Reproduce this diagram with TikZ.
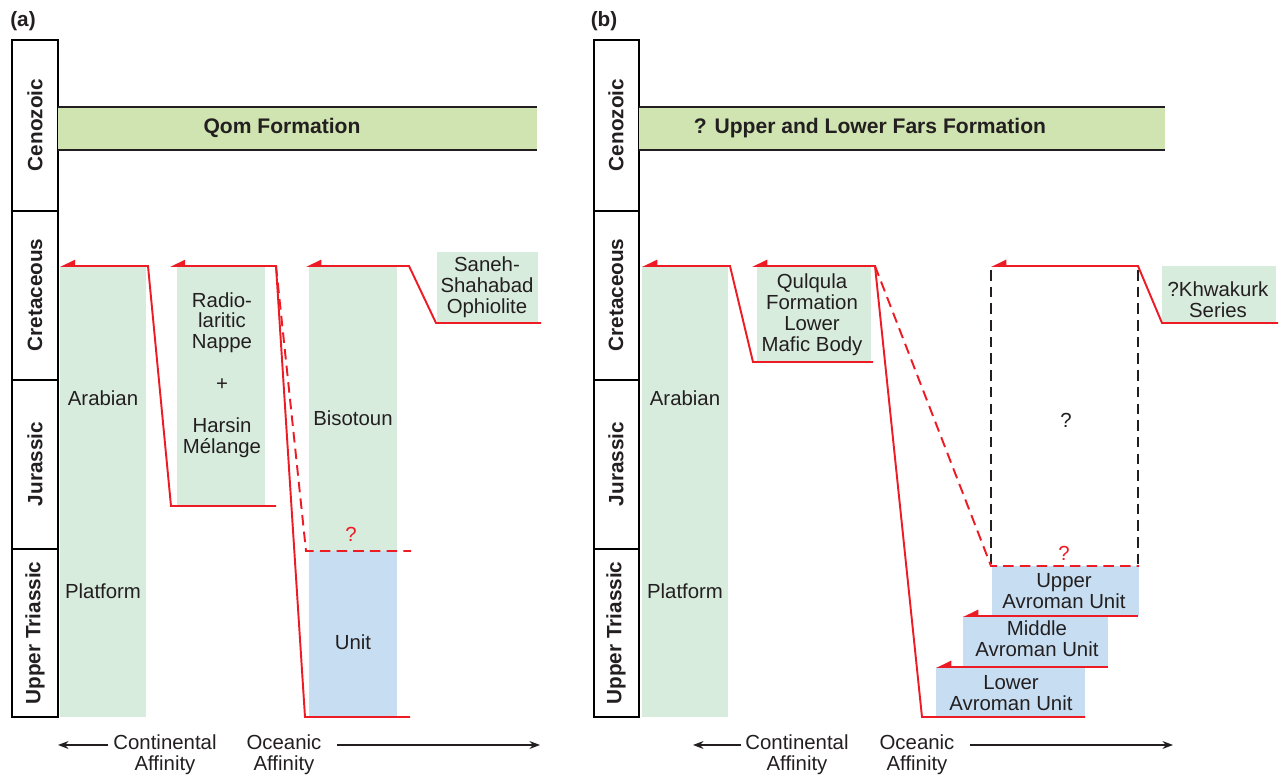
\documentclass[tikz,border=0pt]{standalone}
\usepackage{fontspec}
\setmainfont{Liberation Sans}
\usetikzlibrary{arrows.meta}
\definecolor{cenogreen}{RGB}{207,228,176}
\definecolor{unitgreen}{RGB}{216,236,222}
\definecolor{unitblue}{RGB}{199,222,242}
\definecolor{thrustred}{RGB}{237,28,36}
\definecolor{inkgray}{RGB}{35,31,32}
\tikzset{
  % time scale column
  period/.style = {
    draw = black,
    line width = 1.1pt
  },
  era/.style = {
    rotate = 90,
    inner sep = 0,
    text = inkgray,
    font = \bfseries\fontsize{11.8}{12}\selectfont
  },
  panel label/.style = {
    inner sep = 0,
    text = inkgray,
    font = \bfseries\fontsize{11.8}{12}\selectfont
  },
  % cenozoic cover band
  band/.style = {
    draw = inkgray,
    line width = 0.9pt
  },
  cover/.style = {
    inner sep = 0,
    text = inkgray,
    font = \bfseries\fontsize{12}{12}\selectfont
  },
  % tectonic unit label
  unit/.style = {
    align = center,
    inner sep = 0,
    text = inkgray,
    font = \fontsize{11.6}{11.9}\selectfont
  },
  % thrust with half arrow at its leading edge
  thrust/.style = {
    draw = thrustred,
    line width = 1.1pt,
    {Triangle[harpoon,swap,length=7.5pt,width=7pt]}-
  },
  % inferred contact
  fault/.style = {
    draw = thrustred,
    line width = 1.1pt,
    dash pattern = on 6pt off 3.5pt
  },
  unknown/.style = {
    draw = inkgray,
    line width = 1.1pt,
    dash pattern = on 6pt off 3.5pt
  },
  query/.style = {
    inner sep = 0,
    font = \fontsize{11.6}{12}\selectfont
  },
  affinity/.style = {
    draw = inkgray,
    line width = 0.7pt,
    -{Stealth[length=6pt,width=4.5pt]}
  }
}

\begin{document}
\begin{tikzpicture}[x=0.02cm, y=-0.02cm]
    \useasboundingbox (0,0) rectangle (1279,776);

    % ---------------- panel (a) ----------------
    \node[panel label] (a-label) at (23,21) {(a)};

    % time scale
    \draw[period] (12,40) rectangle (58,717);
    \draw[period] (12,211) -- (58,211);
    \draw[period] (12,380) -- (58,380);
    \draw[period] (12,549) -- (58,549);
    \node[era] (a-ceno) at (35,125) {Cenozoic};
    \node[era] (a-cret) at (35,295) {Cretaceous};
    \node[era] (a-jura) at (35,464) {Jurassic};
    \node[era] (a-tria) at (35,633) {Upper Triassic};

    % cover
    \fill[cenogreen] (58,107) rectangle (537,150);
    \draw[band] (58,107) -- (537,107) (58,150) -- (537,150);
    \node[cover] (qom) at (282,128) {Qom Formation};

    % units
    \fill[unitgreen] (60,266) rectangle (146,717);
    \fill[unitgreen] (177,266) rectangle (265,506);
    \fill[unitgreen] (309,266) rectangle (397,551);
    \fill[unitblue] (309,551) rectangle (397,717);
    \fill[unitgreen] (437,252) rectangle (538,323);

    \node[unit] (a-arab) at (103,398) {Arabian};
    \node[unit] (a-plat) at (103,591) {Platform};
    \node[unit] (radio) at (222,375) {Radio-\\laritic\\Nappe\\~\\+\\~\\Harsin\\Mélange};
    \node[unit] (biso) at (353,418) {Bisotoun};
    \node[unit] (biso-unit) at (353,642) {Unit};
    \node[unit] (saneh) at (487,287) {Saneh-\\Shahabad\\Ophiolite};
    \node[query, text=thrustred] (a-query) at (351,534) {?};

    % thrusts
    \draw[thrust] (60,266) -- (148,266) -- (171,506) -- (276,506);
    \draw[thrust] (170,266) -- (276,266) -- (305,717) -- (410,717);
    \draw[fault] (276,266) -- (306,551) -- (411,551);
    \draw[thrust] (306,266) -- (409,266) -- (436,323) -- (541,323);

    % affinity
    \node[unit] (a-cont) at (165,755) {Continental\\Affinity};
    \node[unit] (a-ocea) at (284,755) {Oceanic\\Affinity};
    \draw[affinity] (108,745) -- (58,745);
    \draw[affinity] (337,745) -- (540,745);

    % ---------------- panel (b) ----------------
    \node[panel label] (b-label) at (604,21) {(b)};

    % time scale
    \draw[period] (594,40) rectangle (639,717);
    \draw[period] (594,211) -- (639,211);
    \draw[period] (594,380) -- (639,380);
    \draw[period] (594,549) -- (639,549);
    \node[era] (b-ceno) at (616,125) {Cenozoic};
    \node[era] (b-cret) at (616,295) {Cretaceous};
    \node[era] (b-jura) at (616,464) {Jurassic};
    \node[era] (b-tria) at (616,633) {Upper Triassic};

    % cover
    \fill[cenogreen] (639,107) rectangle (1165,150);
    \draw[band] (639,107) -- (1165,107) (639,150) -- (1165,150);
    \node[cover] (fars) at (870,128) {? Upper and Lower Fars Formation};

    % units
    \fill[unitgreen] (642,266) rectangle (728,717);
    \fill[unitgreen] (757,266) rectangle (871,362);
    \fill[unitgreen] (1162,266) rectangle (1276,323);
    \fill[unitblue] (992,566) rectangle (1139,616);
    \fill[unitblue] (963,616) rectangle (1108,667);
    \fill[unitblue] (936,667) rectangle (1085,717);

    \node[unit] (b-arab) at (685,398) {Arabian};
    \node[unit] (b-plat) at (685,591) {Platform};
    \node[unit] (qulqula) at (812,315) {Qulqula\\Formation\\Lower\\Mafic Body};
    \node[unit] (khwakurk) at (1218,300) {?Khwakurk\\Series};
    \node[unit] (upper) at (1064,591) {Upper\\Avroman Unit};
    \node[unit] (middle) at (1037,639) {Middle\\Avroman Unit};
    \node[unit] (lower) at (1011,693) {Lower\\Avroman Unit};
    \node[query, text=inkgray] (b-query) at (1066,420) {?};
    \node[query, text=thrustred] (b-query red) at (1064,553) {?};

    % unknown unit
    \draw[unknown] (991,270) -- (991,566);
    \draw[unknown] (1138,270) -- (1138,566);

    % thrusts
    \draw[thrust] (642,266) -- (730,266) -- (753,362) -- (873,362);
    \draw[thrust] (752,266) -- (875,266) -- (922,717) -- (1085,717);
    \draw[fault] (875,266) -- (991,566) -- (1139,566);
    \draw[thrust] (991,266) -- (1138,266) -- (1162,323) -- (1278,323);
    \draw[thrust] (963,616) -- (1138,616);
    \draw[thrust] (936,667) -- (1108,667);

    % affinity
    \node[unit] (b-cont) at (797,755) {Continental\\Affinity};
    \node[unit] (b-ocea) at (917,755) {Oceanic\\Affinity};
    \draw[affinity] (741,745) -- (693,745);
    \draw[affinity] (970,745) -- (1173,745);
\end{tikzpicture}
\end{document}
